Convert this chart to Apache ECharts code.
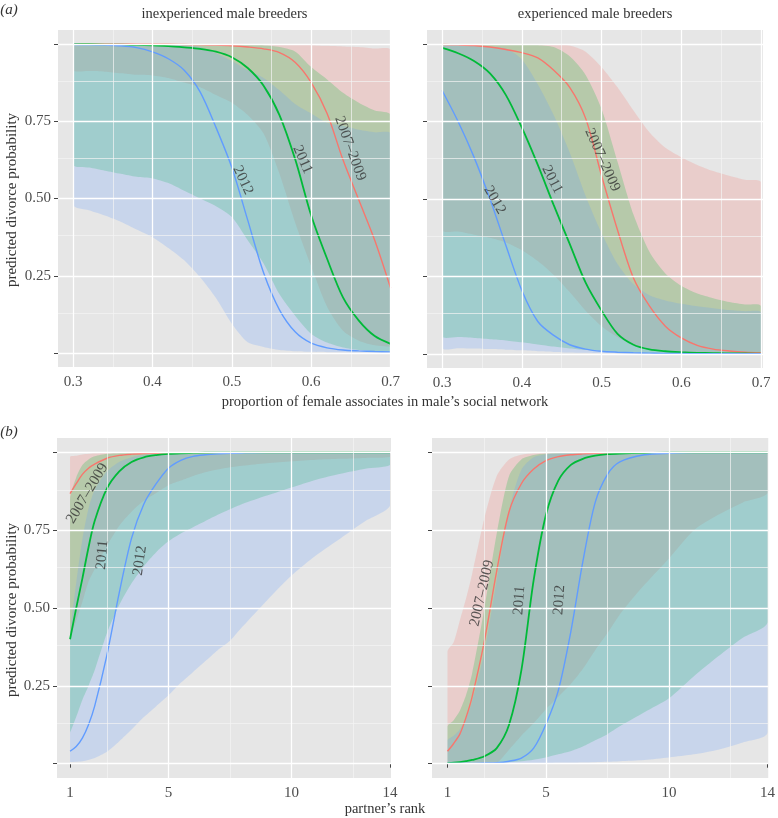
<!DOCTYPE html>
<html>
<head>
<meta charset="utf-8">
<script src="https://cdn.jsdelivr.net/npm/echarts@6/dist/echarts.min.js"></script>
<style>html,body{margin:0;padding:0;background:#fff}#c{width:778px;height:818px}</style>
</head>
<body>
<div id="c"></div>
<script>
// ---------- data ----------
const propX = [0.30,0.32,0.34,0.36,0.38,0.40,0.42,0.44,0.46,0.48,0.50,0.52,0.54,0.56,0.58,0.60,0.62,0.64,0.66,0.68,0.70];
const rankX = [1,1.25,1.5,1.75,2,2.5,3,3.5,4,4.5,5,5.5,6,6.5,7,7.5,8,9,10,11,12,13,14];

// (a) inexperienced
const inexRed    = [1.0,1.0,1.0,1.0,0.999,0.999,0.999,0.998,0.997,0.996,0.994,0.99,0.984,0.972,0.94,0.875,0.775,0.625,0.495,0.365,0.21];
const inexRedHi  = [1,1,1,1,1,1,1,1,1,0.999,0.999,0.999,0.998,0.998,0.997,0.996,0.994,0.992,0.99,0.985,0.98];
const inexRedLo  = [0.915,0.912,0.91,0.905,0.90,0.898,0.89,0.875,0.86,0.835,0.81,0.77,0.71,0.58,0.42,0.28,0.15,0.072,0.04,0.025,0.02];
const inexGreen  = [0.999,0.999,0.998,0.998,0.997,0.995,0.993,0.989,0.984,0.975,0.957,0.922,0.865,0.77,0.625,0.445,0.305,0.18,0.105,0.055,0.03];
const inexGreenHi= [1,1,1,1,1,1,1,1,1,0.999,0.999,0.998,0.996,0.99,0.975,0.925,0.885,0.842,0.81,0.785,0.77];
const inexGreenLo= [0.61,0.60,0.59,0.58,0.57,0.565,0.55,0.525,0.50,0.475,0.44,0.365,0.29,0.19,0.12,0.062,0.034,0.018,0.01,0.006,0.004];
const inexBlue   = [0.998,0.997,0.996,0.994,0.988,0.974,0.952,0.915,0.845,0.73,0.6,0.43,0.26,0.14,0.068,0.032,0.017,0.01,0.007,0.005,0.004];
const inexBlueHi = [1,1,1,1,1,0.999,0.997,0.995,0.99,0.97,0.945,0.915,0.89,0.85,0.805,0.775,0.745,0.735,0.722,0.714,0.71];
const inexBlueLo = [0.48,0.462,0.445,0.425,0.40,0.375,0.34,0.30,0.245,0.178,0.095,0.035,0.02,0.01,0.006,0.004,0.003,0.003,0.002,0.002,0.002];

// (a) experienced
const expRed     = [0.998,0.997,0.995,0.99,0.982,0.972,0.955,0.915,0.86,0.76,0.575,0.40,0.245,0.155,0.09,0.052,0.028,0.016,0.01,0.006,0.004];
const expRedHi   = [1,1,1,1,1,1,1,0.999,0.995,0.975,0.925,0.86,0.785,0.715,0.665,0.635,0.61,0.59,0.575,0.562,0.554];
const expRedLo   = [0.40,0.395,0.385,0.375,0.36,0.335,0.30,0.255,0.20,0.14,0.09,0.055,0.03,0.018,0.011,0.007,0.005,0.004,0.003,0.002,0.002];
const expGreen   = [0.987,0.97,0.945,0.905,0.835,0.73,0.61,0.48,0.355,0.23,0.14,0.065,0.03,0.015,0.009,0.006,0.004,0.003,0.002,0.002,0.001];
const expGreenHi = [0.999,0.999,0.999,0.999,0.999,0.999,0.997,0.99,0.96,0.90,0.79,0.62,0.45,0.33,0.26,0.22,0.195,0.18,0.168,0.16,0.155];
const expGreenLo = [0.058,0.055,0.052,0.048,0.044,0.038,0.031,0.024,0.018,0.013,0.009,0.006,0.004,0.003,0.002,0.002,0.001,0.001,0.001,0.001,0.001];
const expBlue    = [0.85,0.75,0.635,0.50,0.35,0.205,0.105,0.06,0.03,0.016,0.009,0.006,0.004,0.003,0.002,0.002,0.001,0.001,0.001,0.001,0.001];
const expBlueHi  = [0.998,0.997,0.995,0.99,0.985,0.95,0.87,0.77,0.65,0.51,0.39,0.29,0.225,0.19,0.173,0.162,0.154,0.148,0.142,0.138,0.134];
const expBlueLo  = [0.02,0.019,0.018,0.016,0.014,0.012,0.009,0.007,0.005,0.004,0.003,0.002,0.002,0.002,0.001,0.001,0.001,0.001,0.001,0.001,0.001];

// (b) inexperienced
const rInexRed    = [0.868,0.90,0.93,0.95,0.963,0.982,0.991,0.995,0.997,0.998,0.999,0.999,1,1,1,1,1,1,1,1,1,1,1];
const rInexRedHi  = [0.986,0.99,0.994,0.996,0.998,0.999,0.999,1,1,1,1,1,1,1,1,1,1,1,1,1,1,1,1];
const rInexRedLo  = [0.40,0.46,0.52,0.585,0.625,0.70,0.765,0.81,0.845,0.87,0.895,0.91,0.925,0.937,0.946,0.953,0.958,0.966,0.972,0.977,0.98,0.983,0.986];
const rInexGreen  = [0.40,0.50,0.595,0.695,0.78,0.885,0.94,0.97,0.985,0.992,0.996,0.998,0.999,1,1,1,1,1,1,1,1,1,1];
const rInexGreenHi= [0.85,0.92,0.96,0.978,0.988,0.996,0.999,1,1,1,1,1,1,1,1,1,1,1,1,1,1,1,1];
const rInexGreenLo= [0.10,0.15,0.205,0.25,0.30,0.42,0.51,0.58,0.635,0.68,0.715,0.74,0.76,0.78,0.80,0.818,0.835,0.862,0.888,0.913,0.932,0.948,0.96];
const rInexBlue   = [0.04,0.055,0.082,0.125,0.185,0.35,0.55,0.725,0.835,0.90,0.95,0.975,0.988,0.993,0.996,0.998,0.999,1,1,1,1,1,1];
const rInexBlueHi = [0.40,0.58,0.72,0.82,0.88,0.94,0.97,0.985,0.993,0.996,0.998,0.999,1,1,1,1,1,1,1,1,1,1,1];
const rInexBlueLo = [0.005,0.006,0.008,0.012,0.018,0.038,0.072,0.11,0.15,0.185,0.22,0.26,0.295,0.33,0.365,0.395,0.44,0.525,0.605,0.67,0.725,0.78,0.83];

// (b) experienced
const rExpRed    = [0.04,0.065,0.095,0.148,0.215,0.395,0.62,0.81,0.90,0.947,0.974,0.987,0.993,0.996,0.998,0.999,1,1,1,1,1,1,1];
const rExpRedHi  = [0.36,0.39,0.46,0.53,0.61,0.79,0.925,0.978,0.993,0.998,0.999,1,1,1,1,1,1,1,1,1,1,1,1];
const rExpRedLo  = [0.001,0.001,0.001,0.001,0.001,0.001,0.003,0.045,0.09,0.13,0.175,0.215,0.255,0.305,0.365,0.42,0.48,0.575,0.66,0.75,0.80,0.84,0.87];
const rExpGreen  = [0.002,0.003,0.005,0.008,0.012,0.024,0.05,0.125,0.30,0.59,0.80,0.91,0.96,0.98,0.99,0.995,0.997,0.999,1,1,1,1,1];
const rExpGreenHi= [0.12,0.14,0.17,0.22,0.29,0.50,0.74,0.925,0.978,0.992,0.997,0.999,1,1,1,1,1,1,1,1,1,1,1];
const rExpGreenLo= [0.001,0.001,0.001,0.001,0.001,0.002,0.003,0.005,0.008,0.013,0.02,0.03,0.04,0.055,0.075,0.095,0.12,0.165,0.21,0.28,0.345,0.405,0.455];
const rExpBlue   = [0.001,0.001,0.001,0.001,0.001,0.002,0.003,0.008,0.018,0.05,0.127,0.235,0.42,0.65,0.84,0.93,0.97,0.993,0.998,1,1,1,1];
const rExpBlueHi = [0.075,0.09,0.11,0.145,0.20,0.36,0.59,0.815,0.945,0.985,0.995,0.998,1,1,1,1,1,1,1,1,1,1,1];
const rExpBlueLo = [0.001,0.001,0.001,0.001,0.001,0.001,0.001,0.001,0.002,0.002,0.002,0.003,0.003,0.004,0.005,0.006,0.008,0.012,0.02,0.03,0.045,0.068,0.10];

const groupNames = ['2007\u20132009','2011','2012'];
const propTicks = [0.3,0.4,0.5,0.6,0.7];
const rankTicks = [1,5,10,14];
const yTicks = [0,0.25,0.5,0.75,1];
const yLabels = [0.25,0.5,0.75];

// direct labels: [text, x, y, rotation]
const annotations = [
  [['2012',0.514,0.559,-65],['2011',0.589,0.626,-66],['2007\u20132009',0.649,0.662,-70]],
  [['2012',0.366,0.497,-60],['2011',0.438,0.5625,-63],['2007\u20132009',0.501,0.626,-66]],
  [['2007\u20132009',1.70,0.869,59],['2011',2.31,0.671,85],['2012',3.84,0.653,82]],
  [['2007\u20132009',2.40,0.548,77],['2011',3.92,0.525,86],['2012',5.54,0.526,86]]
];

// ---------- styling / layout ----------
const FONT = 'Liberation Serif';
const lineColors = ['#F8766D','#00BA38','#619CFF'];
const panels = [
  {grid:{left:58,top:30,width:333,height:337}, xs:propX, xmin:0.281, xmax:0.7005, ymin:-0.045, ymax:1.045,
   xt:propTicks, xfmt:v=>v.toFixed(1), xMajor:[0.3,0.4,0.5,0.6,0.7], xMinor:[0.35,0.45,0.55,0.65], yLab:true,
   sets:[[inexRed,inexRedLo,inexRedHi],[inexGreen,inexGreenLo,inexGreenHi],[inexBlue,inexBlueLo,inexBlueHi]]},
  {grid:{left:427,top:30,width:336,height:338}, xs:propX, xmin:0.281, xmax:0.7025, ymin:-0.045, ymax:1.045,
   xt:propTicks, xfmt:v=>v.toFixed(1), xMajor:[0.3,0.4,0.5,0.6,0.7], xMinor:[0.35,0.45,0.55,0.65], yLab:false,
   sets:[[expRed,expRedLo,expRedHi],[expGreen,expGreenLo,expGreenHi],[expBlue,expBlueLo,expBlueHi]]},
  {grid:{left:57,top:438,width:334,height:340}, xs:rankX, xmin:0.47, xmax:14.04, ymin:-0.046, ymax:1.047,
   xt:rankTicks, xfmt:v=>String(v), xMajor:[5,10], xMinor:[2.5,7.5,12.5], yLab:true,
   sets:[[rInexRed,rInexRedLo,rInexRedHi],[rInexGreen,rInexGreenLo,rInexGreenHi],[rInexBlue,rInexBlueLo,rInexBlueHi]]},
  {grid:{left:432,top:438,width:338,height:340}, xs:rankX, xmin:0.37, xmax:14.03, ymin:-0.046, ymax:1.047,
   xt:rankTicks, xfmt:v=>String(v), xMajor:[5,10], xMinor:[2.5,7.5,12.5], yLab:false,
   sets:[[rExpRed,rExpRedLo,rExpRedHi],[rExpGreen,rExpGreenLo,rExpGreenHi],[rExpBlue,rExpBlueLo,rExpBlueHi]]}
];

function ribbonRenderer(xs, lo, hi, color) {
  return function (params, api) {
    if (params.dataIndex !== 0) return null;
    const pts = [];
    for (let j = 0; j < xs.length; j++) pts.push(api.coord([xs[j], hi[j]]));
    for (let j = xs.length - 1; j >= 0; j--) pts.push(api.coord([xs[j], lo[j]]));
    let mnx=Infinity, mny=Infinity, mxx=-Infinity, mxy=-Infinity;
    pts.forEach(q=>{mnx=Math.min(mnx,q[0]);mny=Math.min(mny,q[1]);mxx=Math.max(mxx,q[0]);mxy=Math.max(mxy,q[1]);});
    return {type:'polygon', shape:{points:pts, smooth:0.25, smoothConstraint:[[mnx,mny],[mxx,mxy]]},
            style:{fill:color, opacity:0.22}, silent:true};
  };
}

const grids=[], xAxes=[], yAxes=[], series=[];
panels.forEach((p,i)=>{
  grids.push(Object.assign({show:true, backgroundColor:'#e6e6e6', borderWidth:0}, p.grid));
  xAxes.push({type:'value', gridIndex:i, min:p.xmin, max:p.xmax,
    axisLine:{show:false}, splitLine:{show:false},
    axisTick:{show:true, customValues:p.xt, length:4, lineStyle:{color:'#444', width:1}},
    axisLabel:{show:true, customValues:p.xt, formatter:p.xfmt, fontFamily:FONT, fontSize:15, color:'#4d4d4d', margin:8}});
  yAxes.push({type:'value', gridIndex:i, min:p.ymin, max:p.ymax,
    axisLine:{show:false}, splitLine:{show:false},
    axisTick:{show:true, customValues:yTicks, length:4, lineStyle:{color:'#444', width:1}},
    axisLabel:{show:p.yLab, customValues:yLabels, formatter:v=>v.toFixed(2), fontFamily:FONT, fontSize:15, color:'#4d4d4d', margin:7}});
  // gridlines
  const ml = [];
  p.xMinor.forEach(v=>ml.push({xAxis:v, lineStyle:{color:'#f4f4f4', width:0.7, type:'solid'}}));
  [0.125,0.375,0.625,0.875].forEach(v=>ml.push({yAxis:v, lineStyle:{color:'#f4f4f4', width:0.7, type:'solid'}}));
  p.xMajor.forEach(v=>ml.push({xAxis:v, lineStyle:{color:'#ffffff', width:1.3, type:'solid'}}));
  yTicks.forEach(v=>ml.push({yAxis:v, lineStyle:{color:'#ffffff', width:1.3, type:'solid'}}));
  series.push({type:'line', xAxisIndex:i, yAxisIndex:i, z:1, silent:true, showSymbol:false,
    data:[[p.xs[0], p.sets[0][0][0]]], lineStyle:{opacity:0},
    markLine:{silent:true, symbol:['none','none'], label:{show:false}, animation:false, data:ml}});
  // ribbons
  p.sets.forEach((s,k)=>{
    series.push({type:'custom', xAxisIndex:i, yAxisIndex:i, z:2, silent:true, clip:true,
      renderItem:ribbonRenderer(p.xs, s[1], s[2], lineColors[k]),
      encode:{x:0, y:[1,2]},
      data:p.xs.map((x,j)=>[x, s[1][j], s[2][j]])});
  });
  // lines
  p.sets.forEach((s,k)=>{
    series.push({type:'line', name:groupNames[k], xAxisIndex:i, yAxisIndex:i, z:3, silent:true, showSymbol:false, symbol:'none',
      smooth:0.3, lineStyle:{color:lineColors[k], width:k===1?1.8:1.4},
      data:p.xs.map((x,j)=>[x, s[0][j]])});
  });
  // direct labels
  series.push({type:'scatter', xAxisIndex:i, yAxisIndex:i, z:5, silent:true, symbolSize:1, itemStyle:{color:'rgba(0,0,0,0)'},
    data:annotations[i].map(a=>({name:a[0], value:[a[1],a[2]], label:{rotate:a[3]}})),
    label:{show:true, position:'inside', formatter:'{b}', fontFamily:FONT, fontSize:15, color:'#333'}});
});

const txt = (t, x, y, opt) => Object.assign({type:'text', x:x, y:y,
  style:Object.assign({text:t, font:'14px "Liberation Serif"', fill:'#333', textAlign:'center', textVerticalAlign:'middle'}, opt||{})});

const graphic = [
  txt('(a)', 9, 10, {font:'italic 15px "Liberation Serif"'}),
  txt('(b)', 9, 432, {font:'italic 15px "Liberation Serif"'}),
  txt('inexperienced male breeders', 224.5, 14, {font:'14.5px "Liberation Serif"'}),
  txt('experienced male breeders', 595, 14, {font:'14.5px "Liberation Serif"'}),
  txt('proportion of female associates in male\u2019s social network', 385, 402, {font:'14.5px "Liberation Serif"'}),
  txt('partner\u2019s rank', 385, 809, {font:'14.5px "Liberation Serif"'}),
  Object.assign(txt('predicted divorce probability', 0, 0, {font:'15px "Liberation Serif"'}), {x:12, y:200, rotation:Math.PI/2}),
  Object.assign(txt('predicted divorce probability', 0, 0, {font:'15px "Liberation Serif"'}), {x:12, y:610, rotation:Math.PI/2})
];

const chart = echarts.init(document.getElementById('c'), null, {renderer:'canvas'});
chart.setOption({animation:false, backgroundColor:'#ffffff', grid:grids, xAxis:xAxes, yAxis:yAxes, series:series, graphic:graphic});
</script>
</body>
</html>
